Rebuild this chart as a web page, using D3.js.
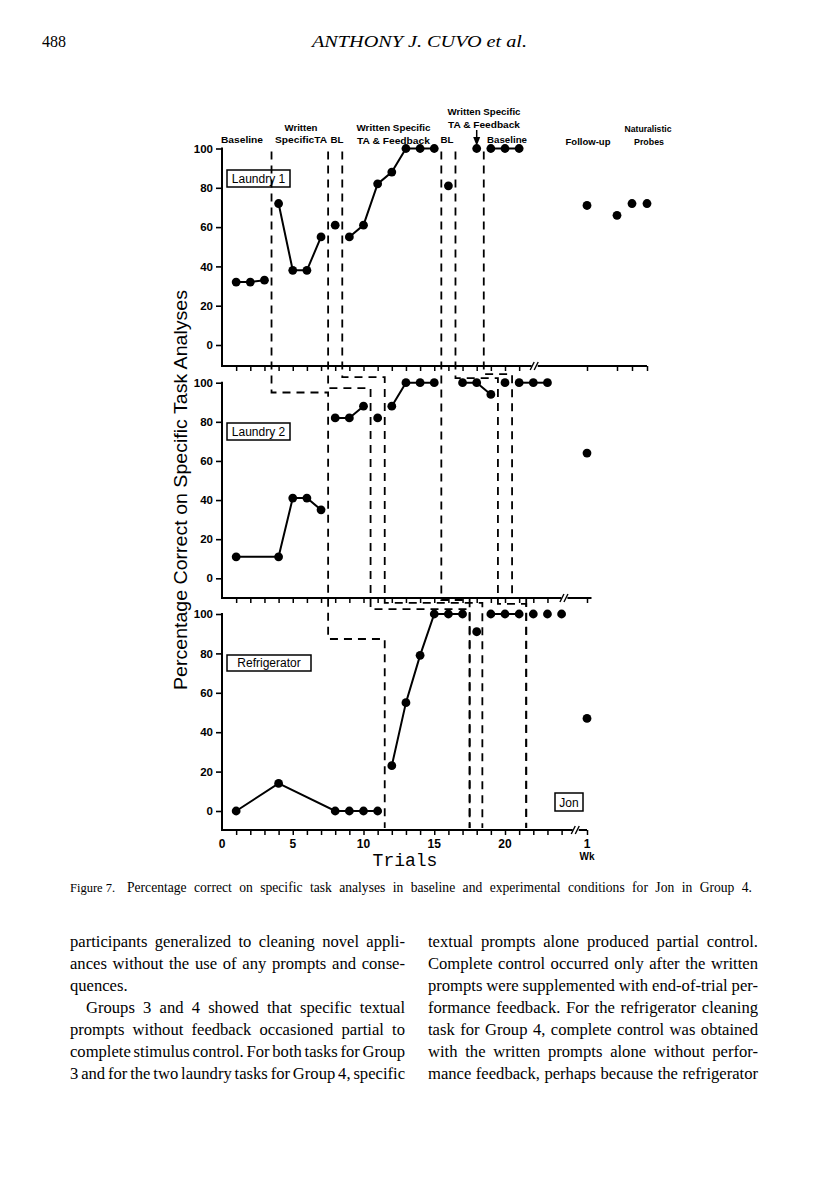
<!DOCTYPE html>
<html><head><meta charset="utf-8">
<script src="https://cdn.jsdelivr.net/npm/d3@7"></script>
<style>body{margin:0;background:#fff} svg{display:block}</style>
</head><body>
<script>
// ---------------- DATA ----------------
const yTickValues = [0, 20, 40, 60, 80, 100];
const xTickLabels = [0, 5, 10, 15, 20];
const panelNames = ["Laundry 1", "Laundry 2", "Refrigerator"];

// [trial, percent] – each inner array is one connected run
const laundry1 = [
  [[1,32],[2,32],[3,33]],
  [[4,72],[5,38],[6,38],[7,55]],
  [[8,61]],
  [[9,55],[10,61],[11,82],[12,88],[13,100],[14,100],[15,100]],
  [[16,81]],
  [[18,100]],
  [[19,100],[20,100],[21,100]]
];
const laundry2 = [
  [[1,11],[4,11],[5,41],[6,41],[7,35]],
  [[8,82],[9,82],[10,88]],
  [[11,82]],
  [[12,88],[13,100],[14,100],[15,100]],
  [[17,100],[18,100],[19,94]],
  [[20,100]],
  [[21,100],[22,100],[23,100]]
];
const refrigerator = [
  [[1,0],[4,14],[8,0],[9,0],[10,0],[11,0]],
  [[12,23],[13,55],[14,79],[15,100],[16,100],[17,100]],
  [[18,91]],
  [[19,100],[20,100],[21,100]],
  [[22,100]],[[23,100]],[[24,100]]
];
// follow-up [week, percent]
const laundry1FollowUp = [[1,71]];
const laundry1Probes = [[3,66],[4,72],[5,72]];
const laundry2FollowUp = [[1,64]];
const refrigeratorFollowUp = [[1,47]];

// phase-change lines (trial units) per panel, and step levels (percent of lower panel)
const phaseTop = [3.5, 7.5, 8.5, 15.5, 16.5, 18.5];
const phaseMid = [7.5, 10.5, 11.5, 15.5, 19.5, 20.5];
const phaseBot = [11.5, 17.5, 18.4, 17.5, 21.5, 21.5];
const stepMid  = [95, 97.2, 102.8, null, 102.3, 104.4];
const stepBot  = [87.3, 102.5, 105.6, 107.1, 105.1, 108.1];

const bodyLeft = [
  "participants generalized to cleaning novel appli-",
  "ances without the use of any prompts and conse-",
  "quences.",
  "Groups 3 and 4 showed that specific textual",
  "prompts without feedback occasioned partial to",
  "complete stimulus control. For both tasks for Group",
  "3 and for the two laundry tasks for Group 4, specific"
];
const bodyRight = [
  "textual prompts alone produced partial control.",
  "Complete control occurred only after the written",
  "prompts were supplemented with end-of-trial per-",
  "formance feedback. For the refrigerator cleaning",
  "task for Group 4, complete control was obtained",
  "with the written prompts alone without perfor-",
  "mance feedback, perhaps because the refrigerator"
];

// ---------------- DRAW ----------------
const W = 816, H = 1198;
const svg = d3.select("body").append("svg").attr("width", W).attr("height", H);
const SANS = "'Liberation Sans', Arial, sans-serif";
const SERIF = "'Liberation Serif', 'Times New Roman', serif";

const x = d3.scaleLinear().domain([0, 20]).range([222, 505]);
const xWk = d3.scaleLinear().domain([1, 5]).range([587, 647]);
const ys = [
  d3.scaleLinear().domain([0, 100]).range([345, 148.5]),
  d3.scaleLinear().domain([0, 100]).range([578.3, 382.7]),
  d3.scaleLinear().domain([0, 100]).range([811, 614])
];
const axisBottomY = [366, 598, 830];
const breakAt = [22.1, 24.2, 25.0];          // trial units
const axisEndWk = [5, 1.3, 1];
const lastTick = [21, 23, 24];
const wkTicks = [[1,3,4,5],[1],[1]];
const seriesList = [laundry1, laundry2, refrigerator];
const followList = [laundry1FollowUp.concat(laundry1Probes), laundry2FollowUp, refrigeratorFollowUp];
const labelBoxes = [[227,170,63,17],[227,423,63,17],[227,655,84,16]];

const g = svg.append("g");

ys.forEach((y, i) => {
  const ab = axisBottomY[i];
  g.append("line").attr("x1", x(0)).attr("x2", x(0)).attr("y1", y(100) - 1).attr("y2", ab)
    .attr("stroke", "#000").attr("stroke-width", 2);
  const ya = d3.axisLeft(y).tickValues(yTickValues).tickSize(6).tickPadding(3);
  const yg = g.append("g").attr("transform", `translate(${x(0)},0)`).call(ya);
  yg.select(".domain").remove();
  yg.selectAll(".tick line").attr("stroke-width", 1.6);
  yg.selectAll("text").attr("font-family", SANS).attr("font-weight", "bold").attr("font-size", 11.5).attr("fill", "#000");

  const bx = x(breakAt[i]);
  g.append("line").attr("x1", x(0) - 1).attr("x2", bx - 3).attr("y1", ab).attr("y2", ab)
    .attr("stroke", "#000").attr("stroke-width", 2);
  g.append("line").attr("x1", bx + 3).attr("x2", xWk(axisEndWk[i])).attr("y1", ab).attr("y2", ab)
    .attr("stroke", "#000").attr("stroke-width", 2);
  [-2.5, 1.5].forEach(o => {
    g.append("line").attr("x1", bx + o - 2).attr("x2", bx + o + 2).attr("y1", ab + 4).attr("y2", ab - 4)
      .attr("stroke", "#000").attr("stroke-width", 1.4);
  });
  const xa = d3.axisBottom(x).tickValues(d3.range(1, lastTick[i] + 1)).tickSize(5).tickFormat("");
  const xg = g.append("g").attr("transform", `translate(0,${ab})`).call(xa);
  xg.select(".domain").remove();
  xg.selectAll(".tick line").attr("stroke-width", 1.5);
  const xw = d3.axisBottom(xWk).tickValues(wkTicks[i]).tickSize(5).tickFormat("");
  const xwg = g.append("g").attr("transform", `translate(0,${ab})`).call(xw);
  xwg.select(".domain").remove();
  xwg.selectAll(".tick line").attr("stroke-width", 1.5);

  const line = d3.line().x(d => x(d[0])).y(d => y(d[1]));
  seriesList[i].forEach(seg => {
    if (seg.length > 1) g.append("path").attr("d", line(seg)).attr("fill", "none").attr("stroke", "#000").attr("stroke-width", 2);
    seg.forEach(d => g.append("circle").attr("cx", x(d[0])).attr("cy", y(d[1])).attr("r", 4.4).attr("fill", "#000"));
  });
  followList[i].forEach(d => g.append("circle").attr("cx", xWk(d[0])).attr("cy", y(d[1])).attr("r", 4.4).attr("fill", "#000"));

  const b = labelBoxes[i];
  g.append("rect").attr("x", b[0]).attr("y", b[1]).attr("width", b[2]).attr("height", b[3])
    .attr("fill", "#fff").attr("stroke", "#000").attr("stroke-width", 1.5);
  g.append("text").attr("x", b[0] + b[2] / 2).attr("y", b[1] + b[3] - 4).attr("text-anchor", "middle")
    .attr("font-family", SANS).attr("font-size", 12).text(panelNames[i]);
});

g.append("rect").attr("x", 555).attr("y", 793).attr("width", 28).attr("height", 18)
  .attr("fill", "#fff").attr("stroke", "#000").attr("stroke-width", 1.5);
g.append("text").attr("x", 569).attr("y", 807).attr("text-anchor", "middle")
  .attr("font-family", SANS).attr("font-size", 12).text("Jon");

phaseTop.forEach((t, i) => {
  const p = d3.path();
  const yMidStep = stepMid[i] == null ? null : ys[1](stepMid[i]);
  const yBotStep = ys[2](stepBot[i]);
  p.moveTo(x(t), ys[0](98.5));
  if (yMidStep != null) {
    p.lineTo(x(t), yMidStep);
    p.lineTo(x(phaseMid[i]), yMidStep);
  }
  p.lineTo(x(phaseMid[i]), yBotStep);
  p.lineTo(x(phaseBot[i]), yBotStep);
  p.lineTo(x(phaseBot[i]), axisBottomY[2] - 2);
  g.append("path").attr("d", p.toString()).attr("fill", "none").attr("stroke", "#000")
    .attr("stroke-width", 1.8).attr("stroke-dasharray", "8,6");
});

const phaseTitles = [
  ["Baseline", 242, 143, 42], ["Written", 301, 131, 33], ["SpecificTA", 301, 143, 52], ["BL", 337, 143, 13],
  ["Written Specific", 393.5, 131, 74], ["TA & Feedback", 393.5, 144, 73], ["BL", 447, 143, 13],
  ["Written Specific", 484, 115, 73], ["TA & Feedback", 484, 128, 72], ["Baseline", 507, 143, 40],
  ["Follow-up", 588, 145, 45], ["Naturalistic", 648, 132, 47], ["Probes", 649, 145, 30]
];
phaseTitles.forEach(d => {
  g.append("text").attr("x", d[1]).attr("y", d[2]).attr("text-anchor", "middle")
    .attr("font-family", SANS).attr("font-weight", "bold").attr("font-size", 9.5)
    .attr("textLength", d[3]).attr("lengthAdjust", "spacingAndGlyphs").text(d[0]);
});
g.append("line").attr("x1", x(18)).attr("x2", x(18)).attr("y1", 130).attr("y2", 139).attr("stroke", "#000").attr("stroke-width", 1.5);
g.append("path").attr("d", `M${x(18)-3.5},137 L${x(18)+3.5},137 L${x(18)},146 Z`).attr("fill", "#000");

xTickLabels.forEach(v => {
  g.append("text").attr("x", x(v)).attr("y", 848).attr("text-anchor", "middle")
    .attr("font-family", SANS).attr("font-weight", "bold").attr("font-size", 12).text(v);
});
g.append("text").attr("x", xWk(1)).attr("y", 848).attr("text-anchor", "middle")
  .attr("font-family", SANS).attr("font-weight", "bold").attr("font-size", 12).text("1");
g.append("text").attr("x", xWk(1)).attr("y", 860).attr("text-anchor", "middle")
  .attr("font-family", SANS).attr("font-weight", "bold").attr("font-size", 10).text("Wk");
g.append("text").attr("x", 405).attr("y", 866).attr("text-anchor", "middle")
  .attr("font-family", "'Liberation Mono', 'Courier New', monospace").attr("font-size", 18).text("Trials");

g.append("text").attr("transform", "translate(187,490) rotate(-90)").attr("text-anchor", "middle")
  .attr("font-family", SANS).attr("font-size", 17.5).attr("textLength", 400).attr("lengthAdjust", "spacingAndGlyphs")
  .text("Percentage Correct on Specific Task Analyses");

// header
svg.append("text").attr("x", 42).attr("y", 47).attr("font-family", SERIF).attr("font-size", 16).text("488");
svg.append("text").attr("x", 312).attr("y", 47).attr("font-family", SERIF).attr("font-style", "italic")
  .attr("font-size", 17).attr("textLength", 215).attr("lengthAdjust", "spacingAndGlyphs").text("ANTHONY J. CUVO et al.");

function justify(t, target) {
  const s = t.text();
  const nat = t.node().getComputedTextLength();
  const spaces = (s.match(/ /g) || []).length;
  if (spaces > 0) {
    t.attr("word-spacing", (target - nat) / spaces);
    const now = t.node().getComputedTextLength();
    if (Math.abs(now - target) > 1) t.attr("textLength", target).attr("lengthAdjust", "spacingAndGlyphs");
  }
}

svg.append("text").attr("x", 70).attr("y", 892).attr("font-family", SERIF).attr("font-size", 12.5).text("Figure 7.");
const cap = svg.append("text").attr("x", 127).attr("y", 892).attr("font-family", SERIF).attr("font-size", 13.6)
  .text("Percentage correct on specific task analyses in baseline and experimental conditions for Jon in Group 4.");
justify(cap, 625);

function column(lines, x0, x1, indentIdx, lastIdx) {
  lines.forEach((s, i) => {
    const xs = i === indentIdx ? x0 + 16 : x0;
    const t = svg.append("text").attr("x", xs).attr("y", 947 + i * 22)
      .attr("font-family", SERIF).attr("font-size", 16.6).text(s);
    if (!lastIdx.includes(i)) justify(t, x1 - xs);
  });
}
column(bodyLeft, 70, 405, 3, [2]);
column(bodyRight, 428, 758, -1, []);
</script>
</body></html>
